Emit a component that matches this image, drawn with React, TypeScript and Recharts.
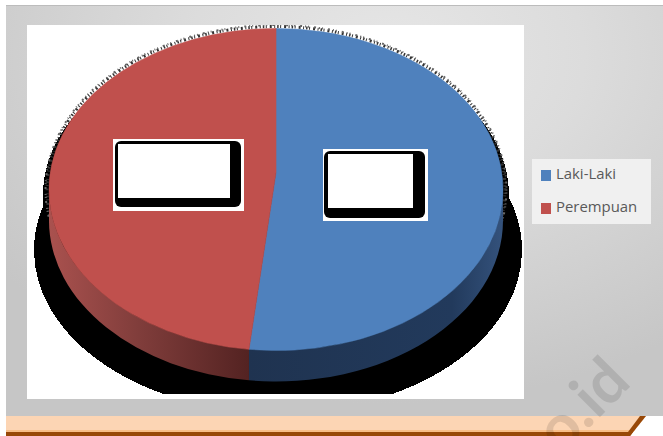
import React from "react";
import { PieChart, Pie, Legend } from "recharts";

const categories = ["Laki-Laki", "Perempuan"];
const values = [51.9, 48.1];
const colors = ["#4f81bd", "#c0504d"];
const wallFills = ["url(#wallBlue)", "url(#wallRed)"];

const W = 663;
const H = 436;
const CX = 276;
const CY = 189.5;
const RX = 227;
const RY = 161;
const DEPTH = 31;
const APEX_SHIFT = -17;
const FONT = "'Open Sans', sans-serif";

const data = categories.map((name, i) => ({ name, value: values[i], fill: colors[i] }));

const rad = (d: number) => (d * Math.PI) / 180;

function Sector3D(props: any) {
  const { cx, cy, outerRadius, startAngle, endAngle, fill, index } = props;
  const rx = outerRadius;
  const ry = (outerRadius * RY) / RX;
  const p = (a: number, dy = 0) => [cx + rx * Math.cos(rad(a)), cy - ry * Math.sin(rad(a)) + dy];
  const [sx, sy] = p(startAngle);
  const [ex, ey] = p(endAngle);
  const large = Math.abs(startAngle - endAngle) > 180 ? 1 : 0;
  const top = `M${cx},${cy + APEX_SHIFT} L${sx},${sy} A${rx},${ry} 0 ${large} 1 ${ex},${ey} Z`;
  const hi = Math.min(startAngle, 0);
  const lo = Math.max(endAngle, -180);
  let wall = "";
  if (lo < hi) {
    const [ax, ay] = p(hi);
    const [bx, by] = p(lo);
    wall = `M${ax},${ay} A${rx},${ry} 0 0 1 ${bx},${by} L${bx},${by + DEPTH} A${rx},${ry} 0 0 0 ${ax},${ay + DEPTH} Z`;
  }
  return (
    <g>
      {wall && <path d={wall} fill={wallFills[index]} />}
      <path d={top} fill={fill} stroke={fill} strokeWidth={0.6} />
    </g>
  );
}

const boxes = [
  { x: 323, y: 149, w: 105, h: 72, bx: 324, by: 151, bw: 101, bh: 67, ix: 328, iy: 154, iw: 85, ih: 54 },
  { x: 113, y: 139, w: 131, h: 72, bx: 115, by: 141, bw: 126, bh: 66, ix: 118, iy: 144, iw: 112, ih: 54 },
];

function LabelBox({ index }: any) {
  const b = boxes[index];
  return (
    <g>
      <rect x={b.x} y={b.y} width={b.w} height={b.h} fill="#ffffff" />
      <rect x={b.bx} y={b.by} width={b.bw} height={b.bh} rx={6} fill="#000000" />
      <rect x={b.ix} y={b.iy} width={b.iw} height={b.ih} fill="#ffffff" />
    </g>
  );
}

function LegendBox({ payload }: any) {
  return (
    <div style={{ width: 119, height: 65, background: "#f0f0f0", position: "relative" }}>
      {(payload || []).map((e: any, i: number) => (
        <div key={e.value} style={{ position: "absolute", left: 9, top: 11 + i * 33, display: "flex", alignItems: "center", height: 11 }}>
          <span style={{ width: 10, height: 11, background: e.color, display: "inline-block", marginRight: 5 }} />
          <span style={{ fontFamily: FONT, fontSize: 14.9, color: "#595959", lineHeight: "11px", position: "relative", top: -2 }}>{e.value}</span>
        </div>
      ))}
    </div>
  );
}

export default function App() {
  return (
    <div style={{ position: "absolute", left: 0, top: 0, width: W, height: H, overflow: "hidden", background: "#ffffff" }}>
      <svg width={W} height={H} style={{ position: "absolute", left: 0, top: 0 }}>
        <polygon points="6,416 646,416 630,436 6,436" fill="#fcd5b4" />
        <polygon points="6,430 635,430 633,432 6,432" fill="#f8bd86" />
        <polygon points="6,432 633,432 630,436 6,436" fill="#984807" />
        <polygon points="640,416 646,416 630,436 628,432" fill="#984807" />
      </svg>
      <div
        style={{
          position: "absolute",
          left: 6,
          top: 5,
          width: 657,
          height: 411,
          boxSizing: "border-box",
          borderTop: "1px solid #bcbcbc",
          background: "radial-gradient(ellipse 75% 85% at 58% 12%, #e6e6e6 0%, #dcdcdc 40%, #c6c6c6 100%)",
        }}
      />
      <div style={{ position: "absolute", left: 27, top: 25, width: 497, height: 374, background: "#ffffff" }} />
      <PieChart width={W} height={H} style={{ position: "absolute", left: 0, top: 0 }} margin={{ top: 0, right: 0, bottom: 0, left: 0 }}>
        <defs>
          <linearGradient id="wallRed" gradientUnits="userSpaceOnUse" x1="50" y1="0" x2="248" y2="0">
            <stop offset="0" stopColor="#a9514e" />
            <stop offset="0.45" stopColor="#803d3b" />
            <stop offset="1" stopColor="#542322" />
          </linearGradient>
          <linearGradient id="wallBlue" gradientUnits="userSpaceOnUse" x1="248" y1="0" x2="503" y2="0">
            <stop offset="0" stopColor="#1f3350" />
            <stop offset="0.8" stopColor="#223a5c" />
            <stop offset="1" stopColor="#34527c" />
          </linearGradient>
          <clipPath id="shadowClip">
            <rect x={27} y={25} width={497} height={369} />
          </clipPath>
        </defs>
        <ellipse cx={278} cy={250} rx={244} ry={163} fill="#000000" clipPath="url(#shadowClip)" shapeRendering="crispEdges" />
        <ellipse cx={CX} cy={195} rx={233} ry={158} fill="#000000" shapeRendering="crispEdges" />
        <ellipse cx={CX} cy={CY} rx={RX + 2} ry={RY + 2} fill="none" stroke="#333333" strokeWidth={3} strokeDasharray="1 2 1.5 1.5 1 3 2 2.5" clipPath="url(#shadowClip)" />
        <ellipse cx={CX} cy={CY} rx={RX + 3.5} ry={RY + 3.5} fill="none" stroke="#666666" strokeWidth={2} strokeDasharray="1 2 1 5 2 3" clipPath="url(#shadowClip)" />
        <Pie
          data={data}
          dataKey="value"
          nameKey="name"
          cx={CX}
          cy={CY}
          outerRadius={RX}
          startAngle={90}
          endAngle={-270}
          stroke="none"
          shape={Sector3D}
          labelLine={false}
          label={LabelBox}
          isAnimationActive={false}
        />
        <Legend
          layout="vertical"
          content={LegendBox}
          wrapperStyle={{ position: "absolute", left: 532, top: 159, width: 119, height: 65 }}
        />
      </PieChart>
      <svg width={W} height={H} style={{ position: "absolute", left: 0, top: 0, pointerEvents: "none" }}>
        <text
          transform="translate(633,384) rotate(-45)"
          textAnchor="end"
          fontFamily="Lato, sans-serif"
          fontWeight={700}
          fontSize={62}
          fill="rgba(0,0,0,0.11)"
        >
          o.id
        </text>
      </svg>
    </div>
  );
}
